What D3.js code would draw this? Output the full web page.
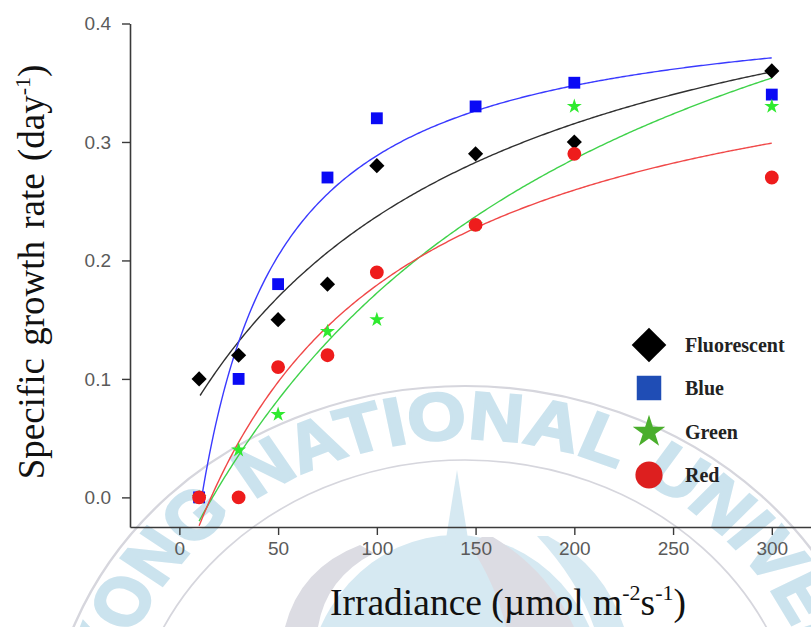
<!DOCTYPE html>
<html><head><meta charset="utf-8">
<script src="https://cdn.jsdelivr.net/npm/d3@7"></script>
<style>body{margin:0;background:#fff}svg{display:block}</style>
</head><body>
<svg id="chart" width="811" height="627"></svg>
<script>
// ---------- data ----------
const irradiance = [10, 30, 50, 75, 100, 150, 200, 300];
const fluorescent = [0.10, 0.12, 0.15, 0.18, 0.28, 0.29, 0.30, 0.36];
const blue        = [0.00, 0.10, 0.18, 0.27, 0.32, 0.33, 0.35, 0.34];
const green       = [0.00, 0.04, 0.07, 0.14, 0.15, 0.23, 0.33, 0.33];
const red         = [0.00, 0.00, 0.11, 0.12, 0.19, 0.23, 0.29, 0.27];
const seriesNames = ["Fluorescent", "Blue", "Green", "Red"];
// fitted curve parameters: y = y0 + a*(I - I0)/(k + I - I0), drawn from I0 to 300
const fitI0 = [10.5, 11.3, 10, 10];
const fitY0 = [0.086, 0, -0.02, -0.024];
const fitA  = [0.428, 0.425, 0.65, 0.44];
const fitK  = [164, 42, 214, 105];
const xTicks = [0, 50, 100, 150, 200, 250, 300];
const yTicks = [0.0, 0.1, 0.2, 0.3, 0.4];
const xTitle = "Irradiance";
const yTitle = "Specific growth rate";
const sealWords = ["PUKYONG", "NATIONAL", "UNIVERSITY"];

// ---------- setup ----------
const svg = d3.select("#chart");
const x = d3.scaleLinear().domain([-25, 320]).range([130, 811.3]);
const y = d3.scaleLinear().domain([-0.025, 0.4]).range([527, 23.5]);

// ---------- watermark (faint university seal) ----------
const wm = svg.append("g").attr("class", "watermark");
const wBlue = "#d6e9f2", wGray = "#dcdce3";
wm.append("ellipse").attr("cx", 455).attr("cy", 700).attr("rx", 150).attr("ry", 165).attr("fill", wBlue);
wm.append("path").attr("d", "M457,470 L445,545 L469,545 Z").attr("fill", wBlue);
wm.append("path").attr("d", "M285,627 Q300,568 360,545 L374,553 Q326,578 318,627 Z").attr("fill", wGray);
wm.append("path").attr("d", "M470,545 L482,537 L493,537 Q548,570 574,627 L506,627 Q496,585 470,545 Z").attr("fill", wGray);
wm.append("path").attr("d", "M537,536 L548,536 Q604,566 624,627 L594,627 Q578,580 537,536 Z").attr("fill", wBlue);
const seal = wm.append("g").attr("transform", "translate(465,760) scale(1.12,1)");
seal.append("circle").attr("r", 374).attr("fill", "none").attr("stroke", "#d6d6dd").attr("stroke-width", 2.2);
seal.append("circle").attr("r", 300).attr("fill", "none").attr("stroke", "#d6d6dd").attr("stroke-width", 1.6);
const rb = 321;
seal.append("path").attr("id", "sealArc").attr("fill", "none")
  .attr("d", `M0,${rb} A${rb},${rb} 0 1 1 0,${-rb} A${rb},${rb} 0 1 1 0,${rb}`);
const sealPos = [140, 174.5, 209];
const sealAnchor = ["end", "middle", "start"];
sealWords.forEach((w, i) => {
  seal.append("text").attr("font-family", "Liberation Sans, Arial, sans-serif")
    .attr("font-weight", "bold").attr("font-size", 67).attr("fill", "#cbe3ee")
    .attr("stroke", "#cbe3ee").attr("stroke-width", 2.5)
    .append("textPath").attr("href", "#sealArc")
    .attr("startOffset", rb * sealPos[i] * Math.PI / 180)
    .attr("text-anchor", sealAnchor[i]).text(w);
});

// ---------- axes ----------
const gx = svg.append("g").attr("transform", "translate(0,527)")
  .call(d3.axisBottom(x).tickValues(xTicks).tickSize(8).tickPadding(7).tickSizeOuter(0));
const gy = svg.append("g").attr("transform", "translate(130,0)")
  .call(d3.axisLeft(y).tickValues(yTicks).tickFormat(d3.format(".1f")).tickSize(8).tickPadding(11).tickSizeOuter(0));
[gx, gy].forEach(g => {
  g.select(".domain").attr("stroke", "#3a3a3a").attr("stroke-width", 1.6);
  g.selectAll(".tick line").attr("stroke", "#3a3a3a").attr("stroke-width", 1.4);
  g.selectAll(".tick text").attr("fill", "#5a5a5a")
    .attr("font-family", "Liberation Sans, Arial, sans-serif").attr("font-size", 19);
});

// ---------- fitted curves ----------
const values = [fluorescent, blue, green, red];
const lineColors = ["#303030", "#3a3aff", "#3fd24a", "#f04848"];
const line = d3.line().x(d => x(d[0])).y(d => y(d[1]));
values.forEach((v, i) => {
  const pts = d3.range(fitI0[i], 300.001, 1).concat([300]).map(I =>
    [I, fitY0[i] + fitA[i] * (I - fitI0[i]) / (fitK[i] + I - fitI0[i])]);
  svg.append("path").attr("d", line(pts)).attr("fill", "none")
    .attr("stroke", lineColors[i]).attr("stroke-width", 1.4);
});

// ---------- points ----------
const markerColors = ["#000000", "#0a0af5", "#2fea2f", "#ee1c1c"];
const symbolTypes = [d3.symbolSquare, d3.symbolSquare, d3.symbolStar, d3.symbolCircle];
const symbolSizes = [115, 140, 70, 150];
const symbolRot = [45, 0, 0, 0];
values.forEach((v, i) => {
  svg.append("g").selectAll("path").data(irradiance.map((I, j) => [I, v[j]])).join("path")
    .attr("transform", d => `translate(${x(d[0])},${y(d[1])}) rotate(${symbolRot[i]})`)
    .attr("d", d3.symbol().type(symbolTypes[i]).size(symbolSizes[i]))
    .attr("fill", markerColors[i]);
});

// ---------- legend ----------
const legendColors = ["#000000", "#1f4db5", "#4aae2c", "#dd1f1f"];
const legendSizes = [600, 600, 330, 580];
const legendY = [345, 388, 432, 475];
const lg = svg.append("g");
seriesNames.forEach((name, i) => {
  lg.append("path")
    .attr("transform", `translate(649,${legendY[i]}) rotate(${symbolRot[i]})`)
    .attr("d", d3.symbol().type(symbolTypes[i]).size(legendSizes[i]))
    .attr("fill", legendColors[i]);
  lg.append("text").attr("x", 685).attr("y", legendY[i]).attr("dy", "0.35em")
    .attr("font-family", "Liberation Serif, Times New Roman, serif")
    .attr("font-weight", "bold").attr("font-size", 20).attr("fill", "#222")
    .text(name);
});

// ---------- axis titles ----------
const serif = "Liberation Serif, Times New Roman, serif";
const xt = svg.append("text").attr("x", 508).attr("y", 615).attr("text-anchor", "middle")
  .attr("font-family", serif).attr("font-size", 37.5).attr("fill", "#111");
xt.append("tspan").text(xTitle + " (\u00b5mol m");
xt.append("tspan").attr("dy", -15).attr("font-size", 22).text("-2");
xt.append("tspan").attr("dy", 15).text("s");
xt.append("tspan").attr("dy", -15).attr("font-size", 22).text("-1");
xt.append("tspan").attr("dy", 15).text(")");

const yt = svg.append("text").attr("transform", "translate(44,272) rotate(-90)")
  .attr("text-anchor", "middle").attr("font-family", serif).attr("font-size", 37)
  .attr("word-spacing", 3).attr("fill", "#111");
yt.append("tspan").text(yTitle + " (day");
yt.append("tspan").attr("dy", -14).attr("font-size", 22).text("-1");
yt.append("tspan").attr("dy", 14).text(")");
</script>
</body></html>
